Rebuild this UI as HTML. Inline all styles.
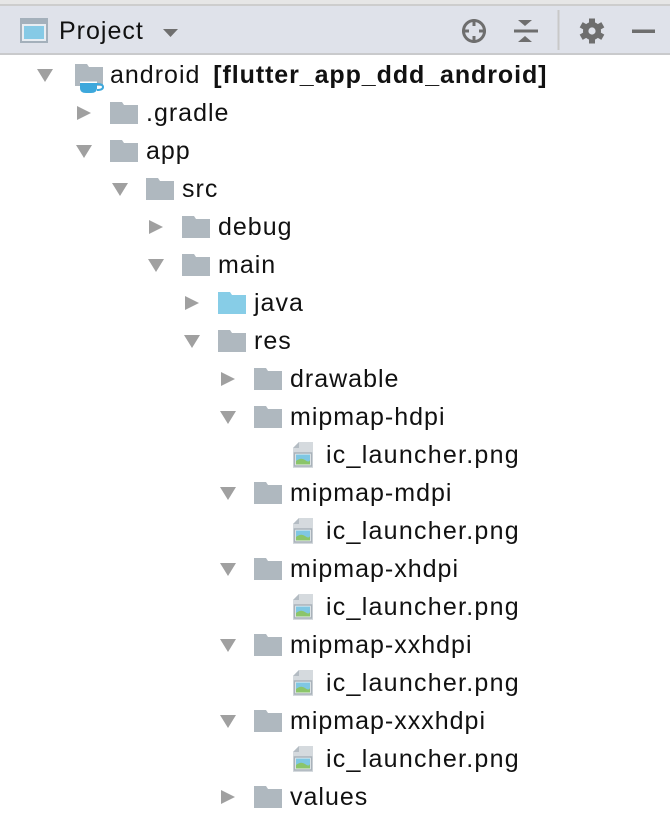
<!DOCTYPE html>
<html><head><meta charset="utf-8">
<style>
html,body{margin:0;padding:0;}
body{width:670px;height:792px;overflow:hidden;background:#fff;position:relative;font-family:"Liberation Sans",sans-serif;}
.top{position:absolute;left:0;top:0;width:670px;height:4px;background:#e6e6e6;}
.topline{position:absolute;left:0;top:4px;width:670px;height:2px;background:#cdcdcd;}
.hdr{position:absolute;left:0;top:6px;width:670px;height:47px;background:#dfe2ea;}
.hdrline{position:absolute;left:0;top:53px;width:670px;height:2px;background:#c9cacc;}
.t{position:absolute;font-size:25px;letter-spacing:1px;color:#111;line-height:38px;white-space:nowrap;}
.b{font-weight:bold;letter-spacing:0.92px;margin-left:5px;}
svg{position:absolute;overflow:visible;}
</style></head><body>
<div class="top"></div><div class="topline"></div><div class="hdr"></div><div class="hdrline"></div>
<svg style="left:0;top:0" width="670" height="56">
<rect x="20" y="18" width="28" height="25" fill="#a4b0bb"/>
<rect x="22" y="24" width="24" height="17" fill="#e8edf2"/>
<rect x="24" y="26" width="20" height="13" fill="#86cae6"/>
<polygon points="163,29 178,29 170.5,37" fill="#6f6f6f"/>
<circle cx="474" cy="31" r="10.5" fill="none" stroke="#6e6e6e" stroke-width="3"/>
<rect x="472.5" y="19" width="3" height="7" fill="#6e6e6e"/>
<rect x="472.5" y="36" width="3" height="7" fill="#6e6e6e"/>
<rect x="462" y="29.5" width="7" height="3" fill="#6e6e6e"/>
<rect x="479" y="29.5" width="7" height="3" fill="#6e6e6e"/>
<polygon points="518,20 532,20 525,26" fill="#6e6e6e"/>
<rect x="514" y="29.5" width="24" height="3" fill="#6e6e6e"/>
<polygon points="518,42 532,42 525,36" fill="#6e6e6e"/>
<rect x="557.5" y="10" width="2" height="40" fill="#c8c8c8"/>
<g transform="translate(592,31)" fill="#6e6e6e">
<circle r="9"/>
<rect x="-3" y="-12.5" width="6" height="25"/>
<rect x="-3" y="-12.5" width="6" height="25" transform="rotate(60)"/>
<rect x="-3" y="-12.5" width="6" height="25" transform="rotate(120)"/>
<circle r="3.6" fill="#dfe2ea"/>
</g>
<rect x="632" y="29.5" width="23" height="3.5" fill="#6e6e6e"/>
</svg>

<svg style="left:0;top:0" width="670" height="792">
<defs>
<g id="fold"><path d="M0,0 H12 L14,3 H28 V22 H0 Z" fill="#afb8bf"/></g>
<g id="foldb"><path d="M0,0 H12 L14,3 H28 V22 H0 Z" fill="#87cde7"/></g>
<g id="tr"><polygon points="0,0 14,7 0,14" fill="#a0a0a0"/></g>
<g id="td"><polygon points="0,0 16,0 8,13" fill="#a0a0a0"/></g>
<g id="file">
<path d="M6,0 H20 V26 H0 V6 Z" fill="#d5dade"/>
<path d="M0,6 L6,0 V6 Z" fill="#b4bcc3"/>
<rect x="1.5" y="11" width="17" height="13" fill="#eef1f3" stroke="#a9b2ba" stroke-width="1.5"/>
<rect x="3" y="12.5" width="14" height="10" fill="#7fc7e3"/>
<path d="M3,19 Q8,15 12,18 T17,18 V22.5 H3 Z" fill="#8bc56a"/>
</g>
</defs>
<use href="#td" x="37" y="69"/>
<g transform="translate(75,64)"><path d="M0,0 H12 L14,3 H28 V22 H0 Z" fill="#afb8bf"/>
<path d="M5,19 H22 V24 Q22,29 16,29 H11 Q5,29 5,24 Z" fill="#3da8dc"/>
<path d="M22,20 Q28,20 28,23 Q28,26 22,26" fill="none" stroke="#3da8dc" stroke-width="2"/>
<rect x="5" y="17.5" width="17" height="1.5" fill="#fff"/></g>
<use href="#tr" x="77" y="106"/><use href="#fold" x="110" y="102"/>
<use href="#td" x="76" y="145"/><use href="#fold" x="110" y="140"/>
<use href="#td" x="112" y="183"/><use href="#fold" x="146" y="178"/>
<use href="#tr" x="149" y="220"/><use href="#fold" x="182" y="216"/>
<use href="#td" x="148" y="259"/><use href="#fold" x="182" y="254"/>
<use href="#tr" x="185" y="296"/><use href="#foldb" x="218" y="292"/>
<use href="#td" x="184" y="335"/><use href="#fold" x="218" y="330"/>
<use href="#tr" x="221" y="372"/><use href="#fold" x="254" y="368"/>
<use href="#td" x="220" y="411"/><use href="#fold" x="254" y="406"/>
<use href="#file" x="293" y="442"/>
<use href="#td" x="220" y="487"/><use href="#fold" x="254" y="482"/>
<use href="#file" x="293" y="518"/>
<use href="#td" x="220" y="563"/><use href="#fold" x="254" y="558"/>
<use href="#file" x="293" y="594"/>
<use href="#td" x="220" y="639"/><use href="#fold" x="254" y="634"/>
<use href="#file" x="293" y="670"/>
<use href="#td" x="220" y="715"/><use href="#fold" x="254" y="710"/>
<use href="#file" x="293" y="746"/>
<use href="#tr" x="221" y="790"/><use href="#fold" x="254" y="786"/>
</svg>

<div class="t" style="left:110px;top:56px;">android<span class="b"> [flutter_app_ddd_android]</span></div>
<div class="t" style="left:59px;top:12px;">Project</div>
<div class="t" style="left:146px;top:94px;">.gradle</div>
<div class="t" style="left:146px;top:132px;">app</div>
<div class="t" style="left:182px;top:170px;">src</div>
<div class="t" style="left:218px;top:208px;">debug</div>
<div class="t" style="left:218px;top:246px;">main</div>
<div class="t" style="left:254px;top:284px;">java</div>
<div class="t" style="left:254px;top:322px;">res</div>
<div class="t" style="left:290px;top:360px;">drawable</div>
<div class="t" style="left:290px;top:398px;">mipmap-hdpi</div>
<div class="t" style="left:326px;top:436px;letter-spacing:1.25px;">ic_launcher.png</div>
<div class="t" style="left:290px;top:474px;">mipmap-mdpi</div>
<div class="t" style="left:326px;top:512px;letter-spacing:1.25px;">ic_launcher.png</div>
<div class="t" style="left:290px;top:550px;">mipmap-xhdpi</div>
<div class="t" style="left:326px;top:588px;letter-spacing:1.25px;">ic_launcher.png</div>
<div class="t" style="left:290px;top:626px;">mipmap-xxhdpi</div>
<div class="t" style="left:326px;top:664px;letter-spacing:1.25px;">ic_launcher.png</div>
<div class="t" style="left:290px;top:702px;">mipmap-xxxhdpi</div>
<div class="t" style="left:326px;top:740px;letter-spacing:1.25px;">ic_launcher.png</div>
<div class="t" style="left:290px;top:778px;">values</div>
</body></html>
